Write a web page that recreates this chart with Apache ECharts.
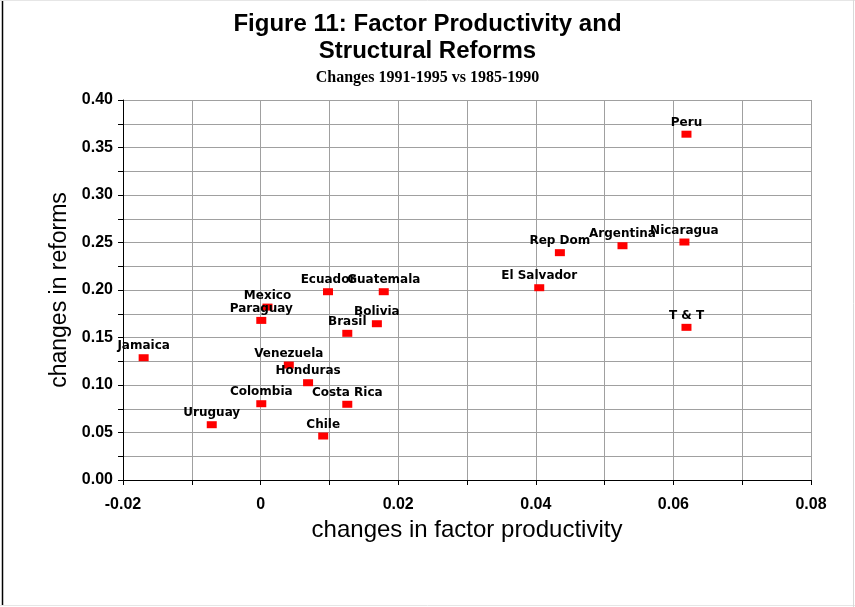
<!DOCTYPE html>
<html>
<head>
<meta charset="utf-8">
<script src="https://cdn.jsdelivr.net/npm/echarts@6/dist/echarts.min.js"></script>
<style>
html,body{margin:0;padding:0;background:#fff;}
#chart{width:855px;height:607px;}
</style>
</head>
<body>
<div id="chart"></div>
<script>
// Data
var countries = ["Peru","Nicaragua","Argentina","Rep Dom","El Salvador","T & T","Ecuador","Guatemala","Mexico","Paraguay","Bolivia","Brasil","Jamaica","Venezuela","Honduras","Colombia","Costa Rica","Uruguay","Chile"];
var productivity = [0.0619,0.0616,0.0526,0.0435,0.0405,0.0619,0.0098,0.0179,0.0010,0.0001,0.0169,0.0126,-0.0170,0.0041,0.0069,0.0001,0.0126,-0.0071,0.0091];
var reforms = [0.364,0.2505,0.2466,0.2393,0.2024,0.1607,0.1982,0.1982,0.182,0.168,0.1645,0.1544,0.1287,0.121,0.1024,0.0803,0.0797,0.0582,0.0463];
var xTicks = [-0.02,0,0.02,0.04,0.06,0.08];
var yTicks = [0,0.05,0.10,0.15,0.20,0.25,0.30,0.35,0.40];

var points = countries.map(function(c,i){ return {name:c, value:[productivity[i], reforms[i]]}; });

var chart = echarts.init(document.getElementById('chart'), null, {renderer:'canvas'});
var gridColor = '#a0a0a0';
var option = {
  backgroundColor:'#ffffff',
  animation:false,
  title:[
    {text:'Figure 11: Factor Productivity and\nStructural Reforms', left:'center', top:6,
     textStyle:{fontFamily:'Liberation Sans, Arial, sans-serif', fontWeight:'bold', fontSize:24, lineHeight:27, color:'#000'}},
    {text:'Changes 1991-1995 vs 1985-1990', left:'center', top:65,
     textStyle:{fontFamily:'Liberation Serif, Times New Roman, serif', fontWeight:'bold', fontSize:16, color:'#000'}}
  ],
  grid:{left:123, right:44, top:100, bottom:127, containLabel:false},
  xAxis:{
    type:'value', min:xTicks[0], max:xTicks[xTicks.length-1], interval:0.01,
    name:'changes in factor productivity', nameLocation:'middle', nameGap:38,
    nameTextStyle:{fontFamily:'Liberation Sans, Arial, sans-serif', fontSize:24, color:'#000'},
    axisLine:{show:true, onZero:false, lineStyle:{color:'#000', width:1}},
    axisTick:{show:true, length:5, lineStyle:{color:'#000'}},
    axisLabel:{fontFamily:'Liberation Sans, Arial, sans-serif', fontWeight:'bold', fontSize:16, color:'#000', margin:17,
      formatter:function(v){
        for (var i=0;i<xTicks.length;i++){ if (Math.abs(v-xTicks[i])<1e-9) return Math.abs(v)<1e-9 ? '0' : v.toFixed(2); }
        return '';
      }},
    splitLine:{show:true, lineStyle:{color:gridColor, width:1}}
  },
  yAxis:{
    type:'value', min:yTicks[0], max:yTicks[yTicks.length-1], interval:0.05,
    name:'changes in reforms', nameLocation:'middle', nameGap:46, nameRotate:90,
    nameTextStyle:{fontFamily:'Liberation Sans, Arial, sans-serif', fontSize:23, color:'#000'},
    axisLine:{show:true, onZero:false, lineStyle:{color:'#000', width:1}},
    axisTick:{show:true, length:5, lineStyle:{color:'#000'}},
    minorTick:{show:true, splitNumber:2, length:5, lineStyle:{color:'#000'}},
    minorSplitLine:{show:true, lineStyle:{color:gridColor, width:1}},
    axisLabel:{fontFamily:'Liberation Sans, Arial, sans-serif', fontWeight:'bold', fontSize:16, color:'#000', margin:10,
      formatter:function(v){ return v.toFixed(2); }},
    splitLine:{show:true, lineStyle:{color:gridColor, width:1}}
  },
  series:[{
    type:'scatter',
    data:points,
    symbol:'rect',
    symbolSize:[10,7],
    itemStyle:{color:'#ff0000', opacity:1},
    label:{show:true, position:'top', distance:2, formatter:'{b}',
      fontFamily:'DejaVu Sans, Verdana, sans-serif', fontWeight:'bold', fontSize:12, color:'#000'},
    labelLayout:{hideOverlap:false}
  }],
  graphic:[
    {type:'line', shape:{x1:2.5,y1:0,x2:2.5,y2:606}, style:{stroke:'#000', lineWidth:1.5}, silent:true},
    {type:'line', shape:{x1:0,y1:0.5,x2:855,y2:0.5}, style:{stroke:'#e6e6e6', lineWidth:1}, silent:true},
    {type:'line', shape:{x1:0,y1:605.5,x2:855,y2:605.5}, style:{stroke:'#e6e6e6', lineWidth:1}, silent:true},
    {type:'line', shape:{x1:853.5,y1:0,x2:853.5,y2:607}, style:{stroke:'#d9d9d9', lineWidth:1}, silent:true}
  ]
};
chart.setOption(option);
</script>
</body>
</html>
